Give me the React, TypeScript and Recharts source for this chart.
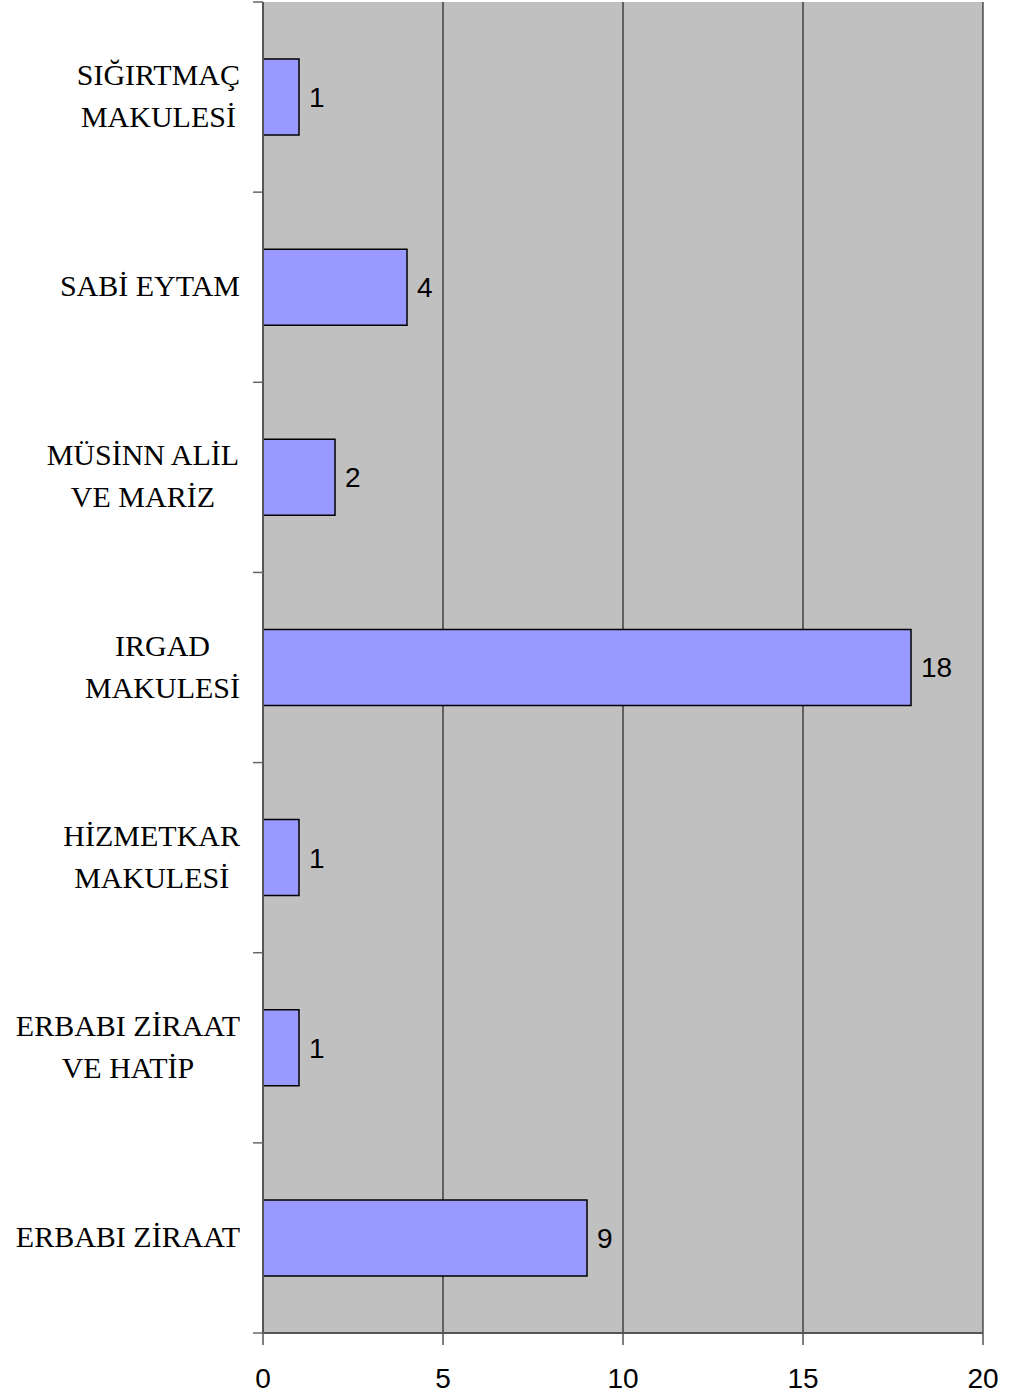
import { BarChart, Bar, XAxis, YAxis, CartesianGrid, LabelList } from 'recharts'

// kategoriler yukarıdan aşağıya
const categories = [
  'SIĞIRTMAÇ\nMAKULESİ',
  'SABİ EYTAM',
  'MÜSİNN ALİL\nVE MARİZ',
  'IRGAD\nMAKULESİ',
  'HİZMETKAR\nMAKULESİ',
  'ERBABI ZİRAAT\nVE HATİP',
  'ERBABI ZİRAAT',
]
const counts = [1, 4, 2, 18, 1, 1, 9]
const xTicks = [0, 5, 10, 15, 20]

const data = categories.map((name, i) => ({ name, value: counts[i] }))

const W = 1011
const H = 1400
const PLOT_TOP = 2
const PLOT_BOTTOM = 1333
const AXIS_W = 263
const BAND = (PLOT_BOTTOM - PLOT_TOP) / categories.length
const LABEL_FONT = "30px 'Liberation Serif'"

let ctx: CanvasRenderingContext2D | null = null
function textWidth(s: string) {
  if (!ctx) ctx = document.createElement('canvas').getContext('2d')
  if (!ctx) return s.length * 15
  ctx.font = LABEL_FONT
  return ctx.measureText(s).width
}

function CategoryTick(props: any) {
  const { x, y, payload, index } = props
  const lines: string[] = String(payload.value).split('\n')
  const blockW = Math.max(...lines.map(textWidth))
  const cx = x - 23 - blockW / 2
  const n = lines.length
  const top = y - BAND / 2
  return (
    <g>
      <line x1={x - 10} x2={x} y1={top} y2={top} stroke='#666' strokeWidth={1.5} />
      {index === categories.length - 1 && (
        <line x1={x - 10} x2={x} y1={y + BAND / 2} y2={y + BAND / 2} stroke='#666' strokeWidth={1.5} />
      )}
      {lines.map((ln, i) => (
        <text
          key={i}
          x={cx}
          y={y + 9 + (i - (n - 1) / 2) * 42}
          textAnchor='middle'
          fontFamily="'Liberation Serif', 'Times New Roman', serif"
          fontSize={30}
          fill='#000'
        >
          {ln}
        </text>
      ))}
    </g>
  )
}

export default function App() {
  return (
    <div style={{ position: 'absolute', left: 0, top: 0, width: W, height: H, background: '#fff' }}>
      <BarChart
        width={W}
        height={H}
        data={data}
        layout='vertical'
        margin={{ top: PLOT_TOP, right: 28, bottom: 0, left: 0 }}
        barCategoryGap='30%'
      >
        <CartesianGrid fill='#C0C0C0' horizontal={false} stroke='#000' strokeWidth={1} />
        <XAxis
          type='number'
          domain={[0, 20]}
          ticks={xTicks}
          interval={0}
          height={H - PLOT_BOTTOM}
          axisLine={{ stroke: '#555', strokeWidth: 2 }}
          tickLine={{ stroke: '#555', strokeWidth: 1.5 }}
          tickSize={12}
          tickMargin={23}
          tick={{ fill: '#000', fontSize: 28, fontFamily: "'Liberation Sans', Arial, sans-serif" }}
        />
        <YAxis
          type='category'
          dataKey='name'
          width={AXIS_W}
          interval={0}
          tickSize={0}
          tickMargin={0}
          tickLine={false}
          axisLine={{ stroke: '#555', strokeWidth: 2 }}
          tick={<CategoryTick />}
        />
        <Bar dataKey='value' fill='#9999FF' stroke='#000' strokeWidth={1.5} isAnimationActive={false}>
          <LabelList
            dataKey='value'
            position='right'
            offset={10}
            fill='#000'
            fontSize={28}
            fontFamily="'Liberation Sans', Arial, sans-serif"
          />
        </Bar>
      </BarChart>
    </div>
  )
}
